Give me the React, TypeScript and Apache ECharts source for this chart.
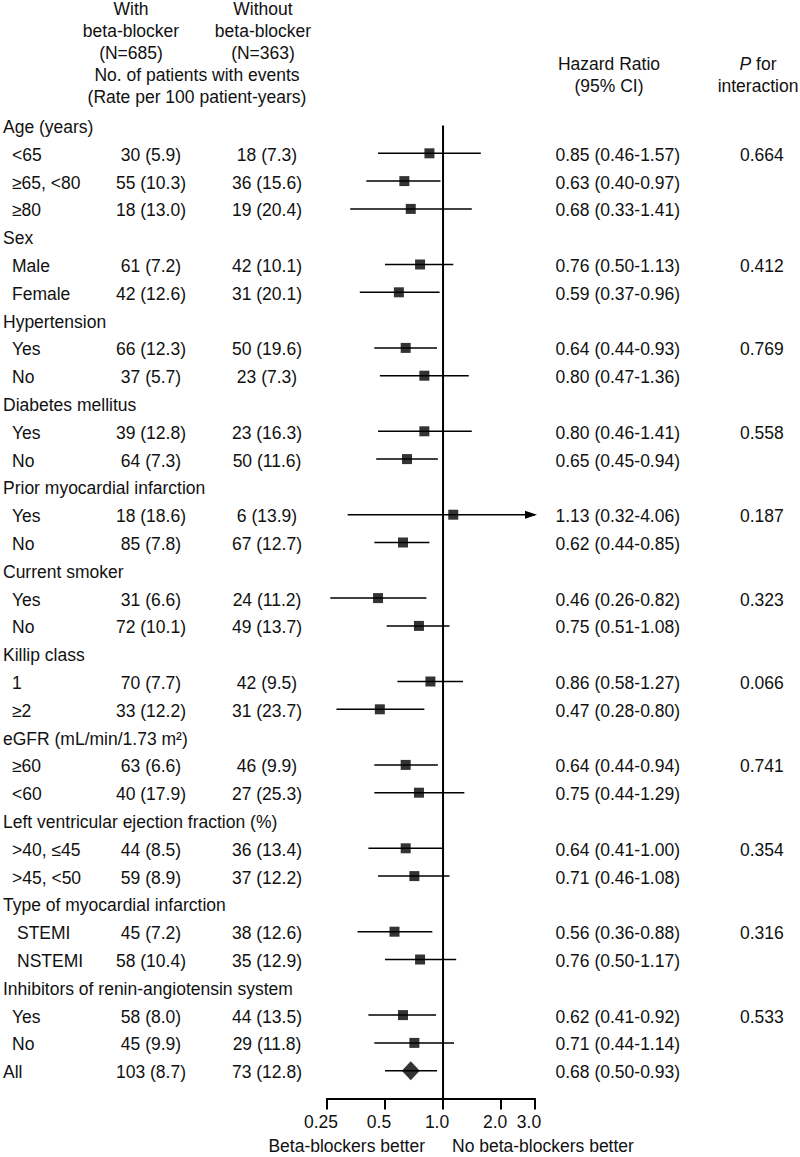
import React, { useEffect, useRef } from "react";
import * as echarts from "echarts";

// ---------- data ----------
const rowLabels: string[] = [
  "Age (years)", "<65", "≥65, <80", "≥80",
  "Sex", "Male", "Female",
  "Hypertension", "Yes", "No",
  "Diabetes mellitus", "Yes", "No",
  "Prior myocardial infarction", "Yes", "No",
  "Current smoker", "Yes", "No",
  "Killip class", "1", "≥2",
  "eGFR (mL/min/1.73 m²)", "≥60", "<60",
  "Left ventricular ejection fraction (%)", ">40, ≤45", ">45, <50",
  "Type of myocardial infarction", "STEMI", "NSTEMI",
  "Inhibitors of renin-angiotensin system", "Yes", "No",
  "All",
];

const withBB: (string | null)[] = [
  null, "30 (5.9)", "55 (10.3)", "18 (13.0)",
  null, "61 (7.2)", "42 (12.6)",
  null, "66 (12.3)", "37 (5.7)",
  null, "39 (12.8)", "64 (7.3)",
  null, "18 (18.6)", "85 (7.8)",
  null, "31 (6.6)", "72 (10.1)",
  null, "70 (7.7)", "33 (12.2)",
  null, "63 (6.6)", "40 (17.9)",
  null, "44 (8.5)", "59 (8.9)",
  null, "45 (7.2)", "58 (10.4)",
  null, "58 (8.0)", "45 (9.9)",
  "103 (8.7)",
];

const withoutBB: (string | null)[] = [
  null, "18 (7.3)", "36 (15.6)", "19 (20.4)",
  null, "42 (10.1)", "31 (20.1)",
  null, "50 (19.6)", "23 (7.3)",
  null, "23 (16.3)", "50 (11.6)",
  null, "6 (13.9)", "67 (12.7)",
  null, "24 (11.2)", "49 (13.7)",
  null, "42 (9.5)", "31 (23.7)",
  null, "46 (9.9)", "27 (25.3)",
  null, "36 (13.4)", "37 (12.2)",
  null, "38 (12.6)", "35 (12.9)",
  null, "44 (13.5)", "29 (11.8)",
  "73 (12.8)",
];

const hr: (number | null)[] = [
  null, 0.85, 0.63, 0.68,
  null, 0.76, 0.59,
  null, 0.64, 0.80,
  null, 0.80, 0.65,
  null, 1.13, 0.62,
  null, 0.46, 0.75,
  null, 0.86, 0.47,
  null, 0.64, 0.75,
  null, 0.64, 0.71,
  null, 0.56, 0.76,
  null, 0.62, 0.71,
  0.68,
];

const ciLow: (number | null)[] = [
  null, 0.46, 0.40, 0.33,
  null, 0.50, 0.37,
  null, 0.44, 0.47,
  null, 0.46, 0.45,
  null, 0.32, 0.44,
  null, 0.26, 0.51,
  null, 0.58, 0.28,
  null, 0.44, 0.44,
  null, 0.41, 0.46,
  null, 0.36, 0.50,
  null, 0.41, 0.44,
  0.50,
];

const ciHigh: (number | null)[] = [
  null, 1.57, 0.97, 1.41,
  null, 1.13, 0.96,
  null, 0.93, 1.36,
  null, 1.41, 0.94,
  null, 4.06, 0.85,
  null, 0.82, 1.08,
  null, 1.27, 0.80,
  null, 0.94, 1.29,
  null, 1.00, 1.08,
  null, 0.88, 1.17,
  null, 0.92, 1.14,
  0.93,
];

const pInteraction: (string | null)[] = [
  null, "0.664", null, null,
  null, "0.412", null,
  null, "0.769", null,
  null, "0.558", null,
  null, "0.187", null,
  null, "0.323", null,
  null, "0.066", null,
  null, "0.741", null,
  null, "0.354", null,
  null, "0.316", null,
  null, "0.533", null,
  null,
];

const overallRow = 34;
const tickValues = [0.25, 0.5, 1, 2, 3];
const tickLabels = ["0.25", "0.5", "1.0", "2.0", "3.0"];
const xMin = 0.25;
const xMax = 3;
const nullLine = 1;

// ---------- styles ----------
const FONT_FAMILY = '"Liberation Sans", Arial, Helvetica, sans-serif';
const FS = 17.5;
const FONT = `${FS}px ${FONT_FAMILY}`;
const INK = "#111";

const GRID_TOP = 125.5;
const ROW_H = 27.8;
const Y_MAX = 35;

export default function App() {
  const ref = useRef<HTMLDivElement>(null);

  useEffect(() => {
    if (!ref.current) return;
    const chart = echarts.init(ref.current, null, { renderer: "svg" });

    const ciData: number[][] = [];
    hr.forEach((v, i) => {
      if (v != null && ciLow[i] != null && ciHigh[i] != null) {
        ciData.push([ciLow[i] as number, ciHigh[i] as number, i]);
      }
    });
    const squareData: number[][] = [];
    const diamondData: number[][] = [];
    hr.forEach((v, i) => {
      if (v == null) return;
      if (i === overallRow) diamondData.push([v, i]);
      else squareData.push([v, i]);
    });

    const txt = (
      text: string,
      x: number,
      y: number,
      align: string,
      extra: any = {}
    ) => ({
      type: "text",
      style: {
        text,
        x,
        y,
        font: FONT,
        fill: INK,
        align,
        textAlign: align,
        verticalAlign: "middle",
        textVerticalAlign: "middle",
        ...extra,
      },
    });

    const headerTexts: any[] = [
      ["With", 131, 9],
      ["beta-blocker", 131, 31],
      ["(N=685)", 131, 53],
      ["Without", 263, 9],
      ["beta-blocker", 263, 31],
      ["(N=363)", 263, 53],
      ["No. of patients with events", 197, 75],
      ["(Rate per 100 patient-years)", 197, 97],
      ["Hazard Ratio", 609, 64],
      ["(95% CI)", 609, 86],
      ["interaction", 758, 86],
    ].map(([t, x, y]) => txt(t as string, x as number, y as number, "center"));

    headerTexts.push({
      type: "text",
      style: {
        text: "{i|P} for",
        x: 758,
        y: 64,
        font: FONT,
        fill: INK,
        align: "center",
        textAlign: "center",
        verticalAlign: "middle",
        textVerticalAlign: "middle",
        rich: {
          i: { fontStyle: "italic", fontSize: FS, fontFamily: FONT_FAMILY, fill: INK, color: INK },
        },
      },
    });

    headerTexts.push(txt("Beta-blockers better", 425, 1146, "right"));
    headerTexts.push(txt("No beta-blockers better", 452, 1146, "left"));

    const option: any = {
      animation: false,
      backgroundColor: "#fff",
      grid: { left: 327, top: GRID_TOP, width: 208, height: ROW_H * Y_MAX },
      xAxis: {
        type: "log",
        logBase: 2,
        min: xMin,
        max: xMax,
        axisLine: { show: true, onZero: false, lineStyle: { color: "#000", width: 2 } },
        axisTick: {
          show: true,
          customValues: tickValues,
          length: 11,
          lineStyle: { color: "#000", width: 2 },
        },
        axisLabel: {
          customValues: tickValues,
          formatter: (v: number) => {
            let best = 0;
            tickValues.forEach((t, k) => {
              if (Math.abs(Math.log(t) - Math.log(v)) < Math.abs(Math.log(tickValues[best]) - Math.log(v))) best = k;
            });
            return tickLabels[best];
          },
          margin: 14,
          color: INK,
          fontSize: FS,
          fontFamily: FONT_FAMILY,
          padding: [0, 12, 0, 0],
        },
        splitLine: { show: false },
        minorTick: { show: false },
      },
      yAxis: {
        type: "value",
        inverse: true,
        min: 0,
        max: Y_MAX,
        show: false,
      },
      graphic: headerTexts,
      series: [
        {
          type: "line",
          name: "null",
          data: [[nullLine, 0], [nullLine, Y_MAX]],
          symbol: "none",
          lineStyle: { color: "#000", width: 2 },
          silent: true,
          z: 1,
        },
        {
          type: "custom",
          name: "ci",
          data: ciData,
          encode: { x: [0, 1], y: 2 },
          clip: false,
          silent: true,
          z: 2,
          renderItem: (params: any, api: any) => {
            const lo = api.value(0);
            const hi = api.value(1);
            const row = api.value(2);
            const p1 = api.coord([Math.max(lo, xMin), row]);
            const p2 = api.coord([Math.min(hi, xMax), row]);
            const children: any[] = [
              {
                type: "line",
                shape: { x1: p1[0], y1: p1[1], x2: p2[0], y2: p2[1] },
                style: { stroke: "#000", lineWidth: 1.5 },
              },
            ];
            if (hi > xMax) {
              children.push({
                type: "polygon",
                shape: {
                  points: [
                    [p2[0] + 2, p2[1]],
                    [p2[0] - 10, p2[1] - 4],
                    [p2[0] - 10, p2[1] + 4],
                  ],
                },
                style: { fill: "#000" },
              });
            }
            return { type: "group", children };
          },
        },
        {
          type: "scatter",
          name: "hr",
          data: squareData,
          symbol: "rect",
          symbolSize: 10,
          itemStyle: { color: "#000" },
          silent: true,
          z: 3,
        },
        {
          type: "scatter",
          name: "overall",
          data: diamondData,
          symbol: "diamond",
          symbolSize: [18, 19],
          itemStyle: { color: "#000" },
          silent: true,
          z: 3,
        },
        {
          type: "custom",
          name: "table",
          data: rowLabels.map((_, i) => [1, i]),
          encode: { x: 0, y: 1 },
          clip: false,
          silent: true,
          renderItem: (params: any, api: any) => {
            const i = params.dataIndex;
            const y = api.coord([1, i])[1] + 1.5;
            const isHeader = hr[i] == null || i === overallRow;
            const label = rowLabels[i];
            const indent = isHeader ? 3 : label === "STEMI" || label === "NSTEMI" ? 17 : 12;
            const children: any[] = [txt(label, indent, y, "left")];
            if (withBB[i]) children.push(txt(withBB[i] as string, 151, y, "center"));
            if (withoutBB[i]) children.push(txt(withoutBB[i] as string, 267, y, "center"));
            if (hr[i] != null) {
              const s = `${(hr[i] as number).toFixed(2)} (${(ciLow[i] as number).toFixed(2)}-${(ciHigh[i] as number).toFixed(2)})`;
              children.push(txt(s, 555.5, y, "left"));
            }
            if (pInteraction[i]) children.push(txt(pInteraction[i] as string, 740, y, "left"));
            return { type: "group", children };
          },
        },
      ],
    };

    chart.setOption(option);
    return () => chart.dispose();
  }, []);

  return (
    <div
      ref={ref}
      style={{ position: "absolute", left: 0, top: 0, width: 800, height: 1157, background: "#fff" }}
    />
  );
}
